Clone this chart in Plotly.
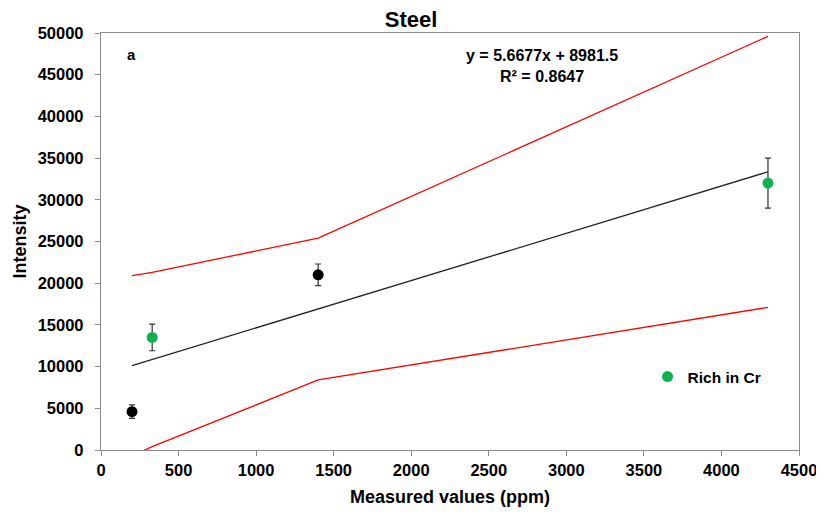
import plotly.graph_objects as go

# Data
black_x = [200, 1400]
black_y = [4600, 21000]
black_err = [800, 1300]

green_x = [330, 4300]
green_y = [13500, 32000]
green_err = [1600, 3000]

slope = 5.6677
intercept = 8981.5
fit_x = [200, 4300]

band_x = [200, 330, 1400, 4300]
band_upper = [20900, 21300, 25400, 49600]
band_lower = [-700, 400, 8400, 17100]

x_ticks = [0, 500, 1000, 1500, 2000, 2500, 3000, 3500, 4000, 4500]
y_ticks = [0, 5000, 10000, 15000, 20000, 25000, 30000, 35000, 40000, 45000, 50000]

FONT = "Liberation Sans, Arial, sans-serif"
fig = go.Figure()

fig.add_trace(go.Scatter(x=band_x, y=band_upper, mode="lines",
                         line=dict(color="#ff0000", width=1.3), showlegend=False, hoverinfo="skip"))
fig.add_trace(go.Scatter(x=band_x, y=band_lower, mode="lines",
                         line=dict(color="#ff0000", width=1.3), showlegend=False, hoverinfo="skip"))
fig.add_trace(go.Scatter(x=fit_x, y=[slope * v + intercept for v in fit_x], mode="lines",
                         line=dict(color="#222222", width=1.3), showlegend=False))

fig.add_trace(go.Scatter(x=black_x, y=black_y, mode="markers",
                         marker=dict(color="black", size=11),
                         error_y=dict(type="data", array=black_err, color="#333333", thickness=1.2, width=3),
                         showlegend=False))
fig.add_trace(go.Scatter(x=green_x, y=green_y, mode="markers", name="Rich in Cr",
                         marker=dict(color="#12b04f", size=11),
                         error_y=dict(type="data", array=green_err, color="#333333", thickness=1.2, width=3),
                         showlegend=True))

axis_common = dict(showgrid=False, zeroline=False, showline=True, linecolor="#8c8c8c", linewidth=1.3,
                   mirror=True, ticks="outside", ticklen=5, tickcolor="#8c8c8c", automargin=False,
                   tickfont=dict(family=FONT, size=16.5, color="black", weight="bold"))

fig.update_layout(
    width=816, height=507,
    margin=dict(l=93, r=25, t=25, b=65, autoexpand=False),
    paper_bgcolor="white", plot_bgcolor="white",
    title=dict(text="<b>Steel</b>", x=0.494, xanchor="center", y=0.978, yanchor="middle",
               yref="container", automargin=False, pad=dict(t=0, b=0),
               font=dict(family=FONT, size=22, color="black")),
    xaxis=dict(range=[0, 4500], tickvals=x_ticks, ticktext=[str(v) for v in x_ticks],
               title=dict(text="<b>Measured values (ppm)</b>", standoff=12,
                          font=dict(family=FONT, size=18, color="black")),
               **axis_common),
    yaxis=dict(range=[0, 50000], tickvals=y_ticks, ticktext=[str(v) for v in y_ticks],
               ticklabelstandoff=8,
               title=dict(text="<b>Intensity</b>", standoff=6,
                          font=dict(family=FONT, size=18, color="black")),
               **axis_common),
    legend=dict(x=0.783, y=0.175, xanchor="left", yanchor="middle", bgcolor="rgba(0,0,0,0)",
                font=dict(family=FONT, size=15.5, color="black", weight="bold"), itemwidth=30),
    showlegend=True,
    annotations=[
        dict(text="<b>a</b>", x=0.034, y=0.973, xref="paper", yref="paper", showarrow=False,
             font=dict(family=FONT, size=15, color="black")),
        dict(text="<b>y = 5.6677x + 8981.5</b><br><b>R² = 0.8647</b>", x=0.632, y=0.922,
             xref="paper", yref="paper", showarrow=False, align="center", yanchor="middle",
             font=dict(family=FONT, size=16, color="black")),
    ],
)

fig.write_html("out.html")
